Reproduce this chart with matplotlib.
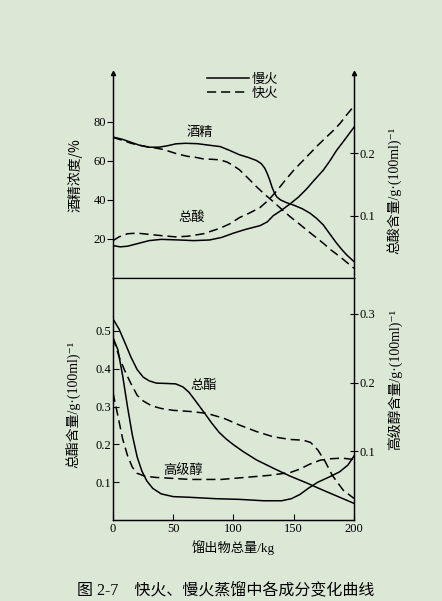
import matplotlib
matplotlib.use("Agg")
import matplotlib.pyplot as plt
from matplotlib.lines import Line2D

plt.rcParams['font.family'] = ['Liberation Serif', 'Noto Sans CJK SC', 'DejaVu Sans']

BG = '#dce8d6'
CJK = ['Noto Sans CJK SC', 'DejaVu Sans']
MIX = ['Liberation Serif', 'Noto Sans CJK SC', 'DejaVu Sans']

# ---- top panel: alcohol (%) left axis, total acid right axis ----
alc_slow_x = [0, 8, 15, 22, 30, 38, 45, 52, 60, 70, 80, 89, 97, 105, 112, 119, 123, 126, 128, 130,
              132, 134, 136, 139, 144, 150, 157, 163.5, 169, 174.5, 180, 185.6, 190, 194, 200]
alc_slow_y = [72.2, 71, 69.5, 68, 67, 67, 67.7, 68.7, 69, 68.8, 68, 67.3, 65.3, 63.1, 61.8, 60.2, 58.6, 56.2, 53.5, 50.3,
              46.5, 43.5, 41.5, 40, 38.6, 37.3, 35.5, 33.2, 30.5, 27.2, 22.5, 17.8, 14.5, 11.8, 8.4]
alc_fast_x = [0, 8, 15, 22, 30, 36, 42, 47, 52, 57, 62, 67, 75, 82, 89, 95, 100, 105, 112, 119,
              126, 133, 140, 147, 154, 160.7, 167, 174.5, 181, 188.4, 194, 200]
alc_fast_y = [72, 70.5, 69, 68, 67, 66.5, 65.8, 64.8, 63.8, 63, 62.3, 62, 61, 60.8, 60.5, 59.3, 57.5, 55.4, 51.2, 46.8,
              42.8, 39.1, 35.2, 31.4, 28, 24.6, 21.5, 17.8, 14.3, 10.9, 8, 5]

acid_slow_x = [0, 6, 12, 20, 30, 40, 55, 67, 80, 90, 100, 110, 122, 128, 133, 140, 147, 154, 160.7,
               167, 174.5, 180, 185.6, 190, 195, 200]
acid_slow_y = [0.052, 0.050, 0.051, 0.055, 0.060, 0.062, 0.061, 0.060, 0.061, 0.065, 0.072, 0.078, 0.084, 0.090, 0.100,
               0.109, 0.119, 0.130, 0.143, 0.157, 0.173, 0.188, 0.205, 0.216, 0.229, 0.242]
acid_fast_x = [0, 5, 12, 20, 30, 40, 52, 62, 75, 89, 97, 105, 113, 122, 129, 136, 143, 150, 157,
               163.5, 170, 177, 183, 188.4, 194, 200]
acid_fast_y = [0.060, 0.066, 0.071, 0.072, 0.070, 0.068, 0.066, 0.067, 0.071, 0.080, 0.087, 0.097, 0.104, 0.113, 0.125,
               0.140, 0.157, 0.173, 0.187, 0.200, 0.213, 0.226, 0.237, 0.248, 0.262, 0.276]

# ---- bottom panel: total ester left axis, higher alcohols right axis ----
est_slow_x = [0, 5, 10, 15, 20, 25, 30, 36, 45, 52, 58, 63, 68, 75, 82, 88, 94, 100, 108, 119,
              133, 147, 160, 172, 186, 200]
est_slow_y = [0.532, 0.505, 0.468, 0.430, 0.398, 0.378, 0.368, 0.362, 0.361, 0.360, 0.352, 0.338, 0.317, 0.287, 0.256,
              0.232, 0.214, 0.199, 0.181, 0.159, 0.137, 0.116, 0.099, 0.082, 0.063, 0.044]
est_fast_x = [0, 5, 10, 15, 20, 25, 32, 40, 50, 64, 78, 92, 105, 119, 133, 147, 158, 164, 170,
              176, 182, 191, 200]
est_fast_y = [0.483, 0.432, 0.393, 0.360, 0.330, 0.315, 0.302, 0.295, 0.290, 0.287, 0.282, 0.269, 0.251, 0.234, 0.220,
              0.213, 0.211, 0.205, 0.185, 0.155, 0.118, 0.079, 0.057]

hal_slow_x = [0, 4, 8, 12, 16, 20, 24, 28, 33, 40, 50, 64, 85, 105, 125, 140, 148, 155, 162,
              170, 180, 188, 195, 200]
hal_slow_y = [0.265, 0.248, 0.210, 0.165, 0.124, 0.092, 0.071, 0.057, 0.046, 0.038, 0.034, 0.033, 0.031, 0.030, 0.028,
              0.028, 0.031, 0.037, 0.046, 0.055, 0.063, 0.070, 0.080, 0.093]
hal_fast_x = [0, 4, 8, 12, 16, 20, 26, 35, 45, 64, 90, 110, 130, 147, 155, 163, 172, 180, 190, 200]
hal_fast_y = [0.185, 0.152, 0.118, 0.094, 0.077, 0.068, 0.064, 0.062, 0.061, 0.059, 0.059, 0.062, 0.065, 0.069, 0.074,
              0.081, 0.087, 0.089, 0.090, 0.088]

W, H = 442, 601
fig = plt.figure(figsize=(W / 100, H / 100), dpi=100, facecolor=BG)


def frac(x0, y0, x1, y1):
    return [x0 / W, 1 - y1 / H, (x1 - x0) / W, (y1 - y0) / H]


ax1 = fig.add_axes(frac(113, 73, 354, 278))
ax2 = fig.add_axes(frac(113, 278, 354, 520))
ax1r = ax1.twinx()
ax2r = ax2.twinx()

lw = 1.1
dash = (6, 3.2)
for a in (ax1, ax2, ax1r, ax2r):
    a.set_facecolor('none')
    a.set_xlim(0, 200)
    a.spines['top'].set_visible(False)
    for s in a.spines.values():
        s.set_linewidth(0.9)
ax1.set_facecolor(BG)
ax2.set_facecolor(BG)

ax1.plot(alc_slow_x, alc_slow_y, 'k-', lw=lw)
ax1.plot(alc_fast_x, alc_fast_y, 'k--', lw=lw, dashes=dash)
ax1r.plot(acid_slow_x, acid_slow_y, 'k-', lw=lw)
ax1r.plot(acid_fast_x, acid_fast_y, 'k--', lw=lw, dashes=dash)
ax2.plot(est_slow_x, est_slow_y, 'k-', lw=lw)
ax2.plot(est_fast_x, est_fast_y, 'k--', lw=lw, dashes=dash)
ax2r.plot(hal_slow_x, hal_slow_y, 'k-', lw=lw)
ax2r.plot(hal_fast_x, hal_fast_y, 'k--', lw=lw, dashes=dash)

ax1.set_ylim(0, 105)
ax1r.set_ylim(0, 0.329)
ax2.set_ylim(0, 0.64)
ax2r.set_ylim(0, 0.352)

ax1.set_yticks([20, 40, 60, 80])
ax1r.set_yticks([0.1, 0.2])
ax2.set_yticks([0.1, 0.2, 0.3, 0.4, 0.5])
ax2r.set_yticks([0.1, 0.2, 0.3])
ax1.set_xticks([])
ax2.set_xticks([0, 50, 100, 150, 200])

ax1.tick_params(axis='y', direction='out', length=4, width=0.8, pad=1, labelsize=9)
ax2.tick_params(axis='y', direction='in', length=4, width=0.8, pad=1, labelsize=9)
ax2.tick_params(axis='x', direction='in', length=4, width=0.8, pad=2, labelsize=9)
for a in (ax1r, ax2r):
    a.tick_params(axis='y', direction='inout', length=6, width=0.8, pad=1, labelsize=9)
ax1.yaxis.set_major_formatter(matplotlib.ticker.FormatStrFormatter('%d'))
for a in (ax1r, ax2, ax2r):
    a.yaxis.set_major_formatter(matplotlib.ticker.FormatStrFormatter('%.1f'))

# small arrow tips on the upper ends of the vertical axes
for xv in (0, 1):
    ax1.plot(xv, 1, marker='^', ms=3, color='k', transform=ax1.transAxes, clip_on=False)

# curve names
ax1.text(72, 74.5, '酒精', family=CJK, fontsize=9.5, ha='center', va='center')
ax1.text(65.5, 31, '总酸', family=CJK, fontsize=9.5, ha='center', va='center')
ax2.text(75, 0.355, '总酯', family=CJK, fontsize=9.5, ha='center', va='center')
ax2.text(58, 0.13, '高级醇', family=CJK, fontsize=9.5, ha='center', va='center')

# legend
handles = [Line2D([], [], color='k', lw=lw),
           Line2D([], [], color='k', lw=lw, ls='--', dashes=dash)]
fig.legend(handles, ['慢火', '快火'], loc='upper left', bbox_to_anchor=(207 / W, 1 - 73 / H),
           frameon=False, prop={'family': CJK, 'size': 9.5}, handlelength=3.2,
           handletextpad=0.2, labelspacing=0.05, borderpad=0, borderaxespad=0)

# axis labels
fig.text(75 / W, 1 - 175 / H, '酒精浓度/%', family=CJK, fontsize=10, rotation=90, ha='center', va='center')
fig.text(394 / W, 1 - 190 / H, '总酸含量/g·(100ml)⁻¹', family=MIX, fontsize=10, rotation=90,
         ha='center', va='center')
fig.text(73 / W, 1 - 404 / H, '总酯含量/g·(100ml)⁻¹', family=MIX, fontsize=10, rotation=90,
         ha='center', va='center')
fig.text(396 / W, 1 - 380 / H, '高级醇含量/g·(100ml)⁻¹', family=MIX, fontsize=10, rotation=90,
         ha='center', va='center')
fig.text(233 / W, 1 - 548 / H, '馏出物总量/kg', family=MIX, fontsize=9.5, ha='center', va='center')

fig.text(226 / W, 1 - 590 / H, '图 2-7    快火、慢火蒸馏中各成分变化曲线', family=MIX, fontsize=11.5,
         ha='center', va='center')

fig.savefig('out.png', dpi=100, facecolor=BG)
